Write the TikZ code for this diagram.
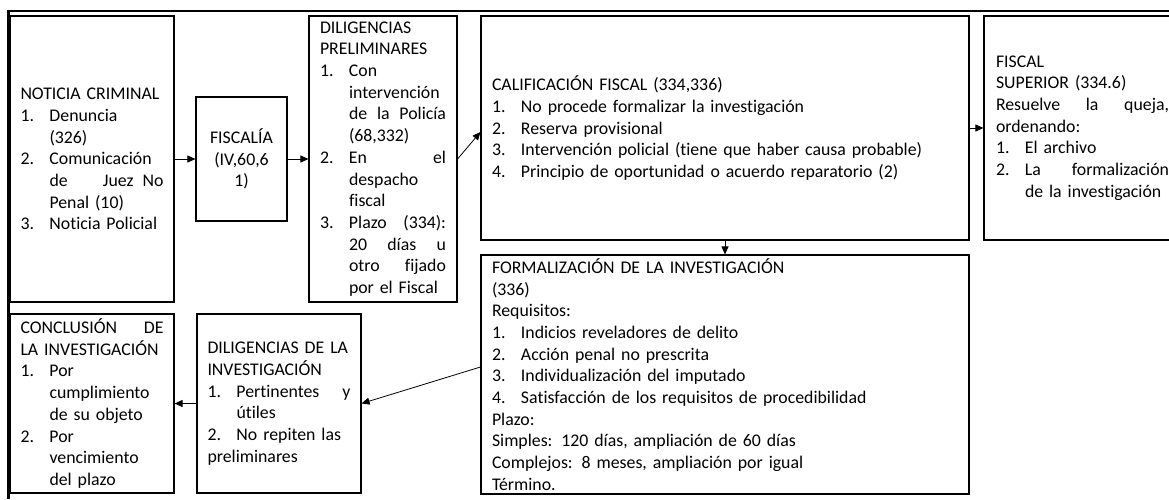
\documentclass[tikz,border=0pt]{standalone}
\usepackage{fontspec}
\setmainfont{Carlito}[Ligatures=NoCommon]
\usetikzlibrary{arrows.meta}
\newcommand\hitem[1]{\makebox[29pt][l]{#1}}
\newcommand\hind{\hspace*{29pt}}
\newcommand\boxfont{\fontsize{17.8}{21.7}\selectfont\setlength{\parindent}{0pt}\hyphenpenalty 10000\relax\exhyphenpenalty 10000\relax}
\begin{document}
\begin{tikzpicture}[x=1pt,y=-1pt,
  txt/.style={font=\boxfont},
  boxx/.style={draw=black,line width=1.1pt,txt,align=left,inner ysep=0pt},
  arr/.style={line width=0.8pt,-{Triangle[length=8pt,width=7pt]}},
  frame/.style={line width=2.2pt}]
\useasboundingbox (0,0) rectangle (1169,499);
\clip (0,0) rectangle (1169,499);
\fill[white] (0,0) rectangle (1169,499);
\draw[frame] (8.5,499) -- (8.5,11) -- (1169,11);

\node[boxx,minimum width=164pt,minimum height=286pt,text width=143pt,inner xsep=10.5pt] (notc) at (92,159) {%
NOTICIA CRIMINAL\\
\hitem{1.}Denuncia\\
\hind(326)\\
\hitem{2.}Comunicación\\
\hind de\hfill Juez\hspace{9pt}No\\
\hind Penal (10)\\
\hitem{3.}Noticia Policial};

\node[boxx,align=center,minimum width=91pt,minimum height=124pt,text width=67pt,inner xsep=12pt] (fisc) at (241.5,159) {%
FISCALÍA\\(IV,60,6\\1)};

\node[boxx,minimum width=148pt,minimum height=286pt,text width=126pt,inner xsep=11pt] (dpre) at (383,159) {%
DILIGENCIAS\\
PRELIMINARES\\
\hitem{1.}Con\\
\hind intervención\\
\hind de\hfill la\hfill Policía\\
\hind(68,332)\\
\hitem{2.}En\hfill el\\
\hind despacho\\
\hind fiscal\\
\hitem{3.}Plazo\hfill(334):\\
\hind 20\hfill días\hfill u\\
\hind otro\hfill fijado\\
\hind por el Fiscal};

\node[boxx,minimum width=488pt,minimum height=224pt,text width=466pt,inner xsep=11pt] (calif) at (725,128) {%
CALIFICACIÓN FISCAL (334,336)\\
\hitem{1.}No procede formalizar la investigación\\
\hitem{2.}Reserva provisional\\
\hitem{3.}Intervención policial (tiene que haber causa probable)\\
\hitem{4.}Principio de oportunidad o acuerdo reparatorio (2)};

\node[boxx,minimum width=197pt,minimum height=224pt,text width=173pt,inner xsep=12pt] (fsup) at (1082.5,128) {%
FISCAL\\
SUPERIOR (334.6)\\
Resuelve\hfill la\hfill queja,\\
ordenando:\\
\hitem{1.}El archivo\\
\hitem{2.}La\hfill formalización\\
\hind de la investigación};

\node[boxx,minimum width=488pt,minimum height=239pt,text width=466pt,inner xsep=11pt] (form) at (725,374.5) {%
FORMALIZACIÓN DE LA INVESTIGACIÓN\\
(336)\\
Requisitos:\\
\hitem{1.}Indicios reveladores de delito\\
\hitem{2.}Acción penal no prescrita\\
\hitem{3.}Individualización del imputado\\
\hitem{4.}Satisfacción de los requisitos de procedibilidad\\
Plazo:\\
Simples: 120 días, ampliación de 60 días\\
Complejos: 8 meses, ampliación por igual\\
Término.};

\node[boxx,minimum width=164pt,minimum height=179pt,text width=143pt,inner xsep=10.5pt] (conc) at (92,403.5) {%
CONCLUSIÓN\hfill DE\\
LA INVESTIGACIÓN\\
\hitem{1.}Por\\
\hind cumplimiento\\
\hind de su objeto\\
\hitem{2.}Por\\
\hind vencimiento\\
\hind del plazo};

\node[boxx,minimum width=164pt,minimum height=179pt,text width=143pt,inner xsep=10.5pt] (dinv) at (279,403.5) {%
DILIGENCIAS DE LA\\
INVESTIGACIÓN\\
\hitem{1.}Pertinentes\hfill y\\
\hind útiles\\
\hitem{2.}No repiten las\\
preliminares};

\draw[arr] (notc.east) -- (fisc.west);
\draw[arr] (fisc.east) -- (dpre.west);
\draw[arr] (dpre.east) -- ([yshift=-4pt]calif.west);
\draw[arr] (calif.east) -- (fsup.west);
\draw[arr] (calif.south) -- (form.north);
\draw[arr] ([yshift=7.5pt]form.west) -- (dinv.east);
\draw[arr] (dinv.west) -- (conc.east);
\end{tikzpicture}
\end{document}
